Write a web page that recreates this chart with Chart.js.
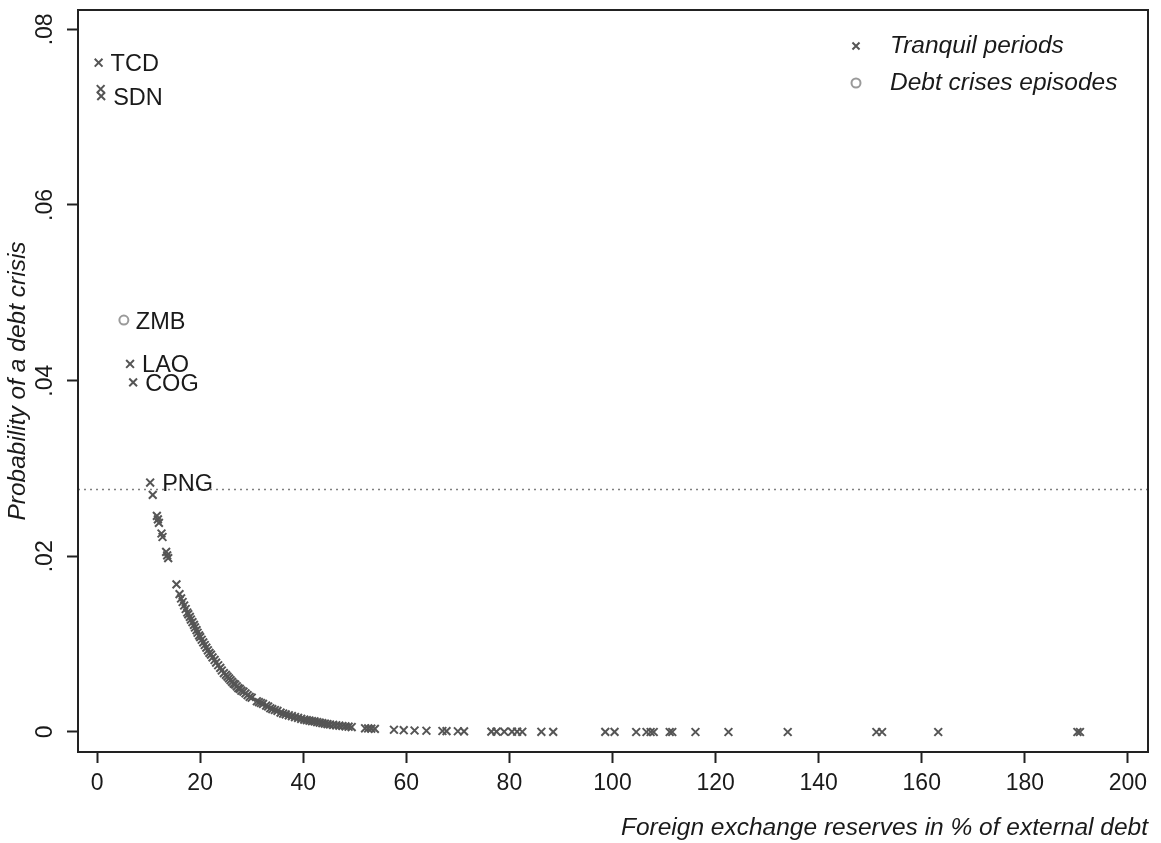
<!DOCTYPE html>
<html>
<head>
<meta charset="utf-8">
<script src="https://cdn.jsdelivr.net/npm/chart.js@4.4.1/dist/chart.umd.min.js"></script>
<style>
  html, body { margin: 0; padding: 0; background: #fff; }
</style>
</head>
<body>
<canvas id="debtChart" width="1161" height="843"></canvas>
<script>
// Tranquil periods (crosses): reserves in % of external debt, probability of a debt crisis
const tranquilX = [
  0.3, 0.7, 0.8, 6.4, 7.0, 10.3,
  10.8, 11.6, 11.8, 12.0, 12.5, 12.7, 13.4, 13.6, 13.8,
  15.4, 16.0, 16.3, 16.6, 16.9, 17.2, 17.5, 17.7, 18.0, 18.2, 18.5, 18.8, 19.0, 19.3, 19.5, 19.8,
  20.0, 20.3, 20.6, 20.9, 21.2, 21.5, 21.8, 22.1, 22.4, 22.8, 23.1, 23.5, 23.9, 24.2, 24.6,
  25.0, 25.3, 25.6, 25.9, 26.2, 26.5, 26.8, 27.1, 27.4, 27.7, 28.0, 28.4, 28.8, 29.2, 29.6,
  30.0, 31.0, 31.4, 31.8, 32.2, 32.8, 33.2, 33.6, 34.0, 34.5, 35.0, 35.6, 36.1, 36.6, 37.2,
  37.8, 38.4, 39.0, 39.6, 40.2, 40.7, 41.2, 41.7, 42.2, 42.7, 43.2, 43.7, 44.2, 44.7, 45.2,
  45.8, 46.4, 47.0, 47.6, 48.2, 48.8, 49.4, 52.0, 52.6, 53.2, 53.9,
  57.6, 59.5, 61.6, 63.9, 67.0, 67.8, 70.0, 71.2, 76.5, 77.5, 79.0, 80.5, 81.5, 82.5,
  86.2, 88.5, 98.6, 100.4, 104.6, 106.6, 107.4, 108.0, 111.1, 111.6, 116.1, 122.5,
  134.0, 151.2, 152.3, 163.2, 190.2, 190.7
];
const tranquilY = [
  0.0762, 0.0732, 0.0724, 0.0419, 0.0398, 0.0284,
  0.0270, 0.0246, 0.0242, 0.0238, 0.0226, 0.0222, 0.0205, 0.0201, 0.0198,
  0.0168, 0.0157, 0.0152, 0.0148, 0.0144, 0.0140, 0.0136, 0.0134, 0.0131, 0.0128, 0.0125, 0.0122, 0.0119, 0.0116, 0.0113, 0.0110,
  0.0108, 0.0105, 0.0102, 0.0099, 0.0096, 0.0093, 0.0090, 0.0088, 0.0085, 0.0082, 0.0079, 0.0076, 0.0073, 0.0070, 0.0067,
  0.0065, 0.0063, 0.0061, 0.0059, 0.0057, 0.0055, 0.0054, 0.0052, 0.0050, 0.0049, 0.0047, 0.0046, 0.0044, 0.0042, 0.0040,
  0.0039, 0.0035, 0.0034, 0.0033, 0.0032, 0.0030, 0.0029, 0.0027, 0.0026, 0.0025, 0.0024, 0.0022, 0.0021, 0.0020, 0.0019,
  0.0018, 0.0017, 0.0016, 0.0015, 0.0014, 0.00135, 0.0013, 0.00124, 0.0012, 0.00113, 0.00107, 0.0010, 0.00095, 0.0009, 0.00085,
  0.0008, 0.00076, 0.00072, 0.00068, 0.00063, 0.0006, 0.00056, 0.00042, 0.0004, 0.00038, 0.00035,
  0.00025, 0.0002, 0.00017, 0.00014, 0.00011, 0.0001, 0.00008, 0.00007, 0.00004, 0.00004, 0.00003, 0.00003, 0.00003, 0.00002,
  0.00002, 0.00001, 0.00001, 0.00001, 0, 0, 0, 0, 0, 0, 0, 0,
  0, 0, 0, 0, 0, 0
];

// Debt crises episodes (hollow circles)
const crisisX = [5.2];
const crisisY = [0.0469];

// country codes written next to some points: [dataset, point index]
const labelNames = ['TCD', 'SDN', 'ZMB', 'LAO', 'COG', 'PNG'];
const labelRefs = [[0, 0], [0, 2], [1, 0], [0, 3], [0, 4], [0, 5]];

const threshold = 0.0276; // dotted cut-off line

const xTicks = [0, 20, 40, 60, 80, 100, 120, 140, 160, 180, 200];
const yTicks = [0, 0.02, 0.04, 0.06, 0.08];
const yTickLabels = ['0', '.02', '.04', '.06', '.08'];

const xMin = -3.7, xMax = 203.9;
const yMin = -0.00228, yMax = 0.0822;

const FONT = '"Liberation Sans", Arial, sans-serif';
const INK = '#1a1a1a';
const CROSS = '#555555';
const RING = '#9a9a9a';

function toPoints(xs, ys) {
  return xs.map((x, i) => ({ x: x, y: ys[i] }));
}

const overlay = {
  id: 'overlay',
  afterDraw(chart) {
    const ctx = chart.ctx;
    const a = chart.chartArea;
    ctx.save();

    // full frame
    ctx.strokeStyle = '#222';
    ctx.lineWidth = 2;
    ctx.strokeRect(a.left, a.top, a.right - a.left, a.bottom - a.top);

    // country codes
    ctx.fillStyle = INK;
    ctx.font = '23.5px ' + FONT;
    ctx.textAlign = 'left';
    ctx.textBaseline = 'middle';
    labelNames.forEach((name, k) => {
      const ref = labelRefs[k];
      const el = chart.getDatasetMeta(ref[0]).data[ref[1]];
      ctx.fillText(name, el.x + 12, el.y + 2);
    });

    // legend, inside top right
    const mx = a.right - 292, tx = a.right - 258;
    const rows = [
      { text: 'Tranquil periods', style: 'crossRot', color: CROSS, r: 5, y: a.top + 36 },
      { text: 'Debt crises episodes', style: 'circle', color: RING, r: 4.5, y: a.top + 73 }
    ];
    ctx.font = 'italic 24.5px ' + FONT;
    rows.forEach(row => {
      ctx.strokeStyle = row.color;
      ctx.fillStyle = 'rgba(0,0,0,0)';
      ctx.lineWidth = 2;
      Chart.helpers.drawPoint(ctx, { pointStyle: row.style, radius: row.r, borderWidth: 2, rotation: 0 }, mx, row.y);
      ctx.fillStyle = INK;
      ctx.fillText(row.text, tx, row.y);
    });

    ctx.restore();
  }
};

document.addEventListener('DOMContentLoaded', () => {
  const ctx = document.getElementById('debtChart').getContext('2d');

  new Chart(ctx, {
    type: 'scatter',
    data: {
      datasets: [
        {
          label: 'Tranquil periods',
          data: toPoints(tranquilX, tranquilY),
          pointStyle: 'crossRot',
          radius: 5.5,
          borderWidth: 2,
          borderColor: CROSS,
          backgroundColor: CROSS,
          order: 1
        },
        {
          label: 'Debt crises episodes',
          data: toPoints(crisisX, crisisY),
          pointStyle: 'circle',
          radius: 4.5,
          borderWidth: 2,
          borderColor: RING,
          backgroundColor: 'rgba(0,0,0,0)',
          order: 1
        },
        {
          label: 'threshold',
          type: 'line',
          data: [{ x: xMin, y: threshold }, { x: xMax, y: threshold }],
          borderColor: '#808080',
          borderWidth: 1.5,
          borderDash: [2, 4],
          pointRadius: 0,
          fill: false,
          order: 2
        }
      ]
    },
    options: {
      responsive: false,
      animation: false,
      devicePixelRatio: 1,
      layout: { padding: { top: 10, right: 13, left: 0, bottom: 0 } },
      plugins: {
        legend: { display: false },
        tooltip: { enabled: false }
      },
      scales: {
        x: {
          type: 'linear',
          min: xMin,
          max: xMax,
          afterBuildTicks: s => { s.ticks = xTicks.map(v => ({ value: v })); },
          afterFit: s => { s.height = 91; s.paddingLeft = 0; s.paddingRight = 0; },
          ticks: {
            callback: v => String(v),
            maxRotation: 0,
            padding: 7,
            color: INK,
            font: { family: FONT, size: 23 }
          },
          grid: { drawOnChartArea: false, tickLength: 11, tickColor: '#222', tickWidth: 2 },
          border: { color: '#222', width: 2 },
          title: {
            display: true,
            align: 'end',
            text: 'Foreign exchange reserves in % of external debt',
            color: INK,
            font: { family: FONT, size: 24.5, style: 'italic' },
            padding: { top: 0, bottom: 0 }
          }
        },
        y: {
          type: 'linear',
          min: yMin,
          max: yMax,
          afterBuildTicks: s => { s.ticks = yTicks.map(v => ({ value: v })); },
          afterFit: s => { s.width = 78; s.paddingTop = 0; s.paddingBottom = 0; },
          ticks: {
            callback: v => yTickLabels[yTicks.indexOf(v)],
            minRotation: 90,
            maxRotation: 90,
            crossAlign: 'center',
            padding: 5,
            color: INK,
            font: { family: FONT, size: 23 }
          },
          grid: { drawOnChartArea: false, tickLength: 11, tickColor: '#222', tickWidth: 2 },
          border: { color: '#222', width: 2 },
          title: {
            display: true,
            text: 'Probability of a debt crisis',
            color: INK,
            font: { family: FONT, size: 24.5, style: 'italic' },
            padding: { top: 3, bottom: 0 }
          }
        }
      }
    },
    plugins: [overlay]
  });
});
</script>
</body>
</html>
